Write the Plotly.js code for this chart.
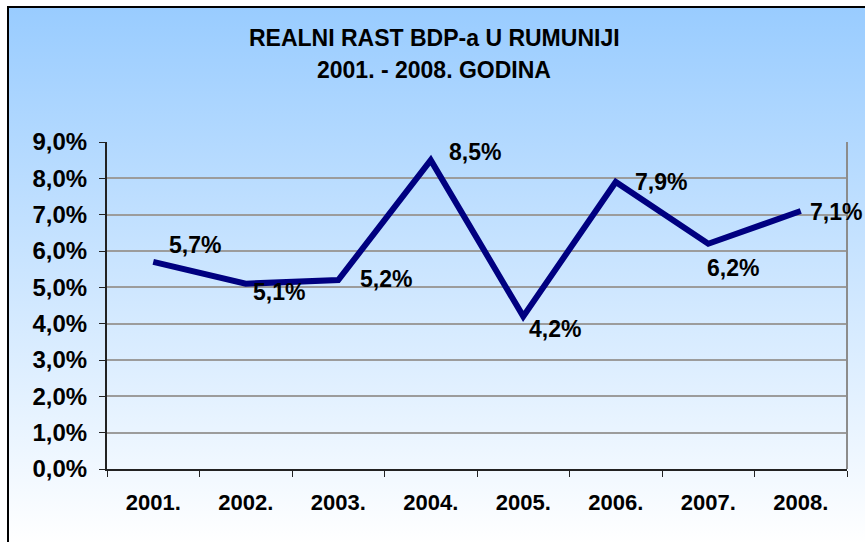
<!DOCTYPE html>
<html>
<head>
<meta charset="utf-8">
<script src="https://cdn.plot.ly/plotly-3.0.1.min.js"></script>
<style>
  html, body { margin:0; padding:0; background:#ffffff; overflow:hidden; }
  #wrap { position:relative; width:865px; height:542px; overflow:hidden; background:#ffffff; }
  #bg { position:absolute; left:7px; top:6px; width:900px; height:536px;
        border-left:2px solid #000; border-top:2px solid #000;
        background:linear-gradient(to bottom, #99CCFF 0%, #FFFFFF 100%); }
  #chart { position:absolute; left:0; top:0; width:865px; height:542px; }
</style>
</head>
<body>
<div id="wrap"><div id="bg"></div><div id="chart"></div></div>
<script>
const years = ['2001.', '2002.', '2003.', '2004.', '2005.', '2006.', '2007.', '2008.'];
const growth = [5.7, 5.1, 5.2, 8.5, 4.2, 7.9, 6.2, 7.1];
const yTicks = [0, 1, 2, 3, 4, 5, 6, 7, 8, 9];
const titleLines = ['REALNI RAST BDP-a U RUMUNIJI', '2001. - 2008. GODINA'];

// label offsets (pixels) relative to each point
const labelDx = [42, 33, 48, 44, 32, 45, 25, 35];
const labelDy = [-17, 8, -1, -8, 13, 0, 24, 1];

const fontFam = 'Liberation Sans, Arial, sans-serif';
const fmt = v => v.toFixed(1).replace('.', ',') + '%';

const trace = {
  x: years, y: growth, type: 'scatter', mode: 'lines',
  line: {color: '#000080', width: 6},
  hoverinfo: 'skip'
};

// plot-area geometry (used for title placement in paper coords)
const M = {l: 107, r: 18, t: 142, b: 73};
const W = 865, H = 542;
const pw = W - M.l - M.r, ph = H - M.t - M.b;
const titleX = (434 - M.l) / pw;
const titleYpx = [38, 70];

const annotations = years.map((yr, i) => ({
  x: i, y: growth[i], xref: 'x', yref: 'y',
  text: fmt(growth[i]), showarrow: false,
  xanchor: 'center', yanchor: 'middle',
  xshift: labelDx[i], yshift: -labelDy[i],
  font: {family: fontFam, size: 23, color: '#000', weight: 'bold'}
}));

titleLines.forEach((t, k) => annotations.push({
  x: titleX, y: (H - M.b - titleYpx[k]) / ph, xref: 'paper', yref: 'paper',
  text: t, showarrow: false, xanchor: 'center', yanchor: 'middle',
  font: {family: fontFam, size: 23, color: '#000', weight: 'bold'}
}));

const layout = {
  width: W, height: H,
  paper_bgcolor: 'rgba(0,0,0,0)', plot_bgcolor: 'rgba(0,0,0,0)',
  margin: M,
  separators: ', ',
  showlegend: false,
  xaxis: {
    type: 'category', range: [-0.5, 7.5],
    showline: true, linecolor: '#222', linewidth: 2,
    ticks: 'outside', tickson: 'boundaries', ticklen: 6, tickcolor: '#222', tickwidth: 1,
    showgrid: false, zeroline: false,
    ticklabelstandoff: 13,
    tickfont: {family: fontFam, size: 22, color: '#000', weight: 'bold'}
  },
  yaxis: {
    range: [0, 9], tickvals: yTicks, ticktext: yTicks.map(fmt),
    showline: true, linecolor: '#222', linewidth: 2,
    ticks: 'outside', ticklen: 6, tickcolor: '#222', tickwidth: 1,
    showgrid: true, gridcolor: '#9c9c9c', gridwidth: 2,
    zeroline: false,
    ticklabelstandoff: 7,
    tickfont: {family: fontFam, size: 24, color: '#000', weight: 'bold'}
  },
  shapes: [
    {type: 'line', xref: 'paper', yref: 'paper', x0: 1, x1: 1, y0: 0, y1: 1,
     line: {color: '#8c8c8c', width: 2}}
  ],
  annotations: annotations
};

Plotly.newPlot('chart', [trace], layout, {displayModeBar: false, staticPlot: true});
</script>
</body>
</html>
